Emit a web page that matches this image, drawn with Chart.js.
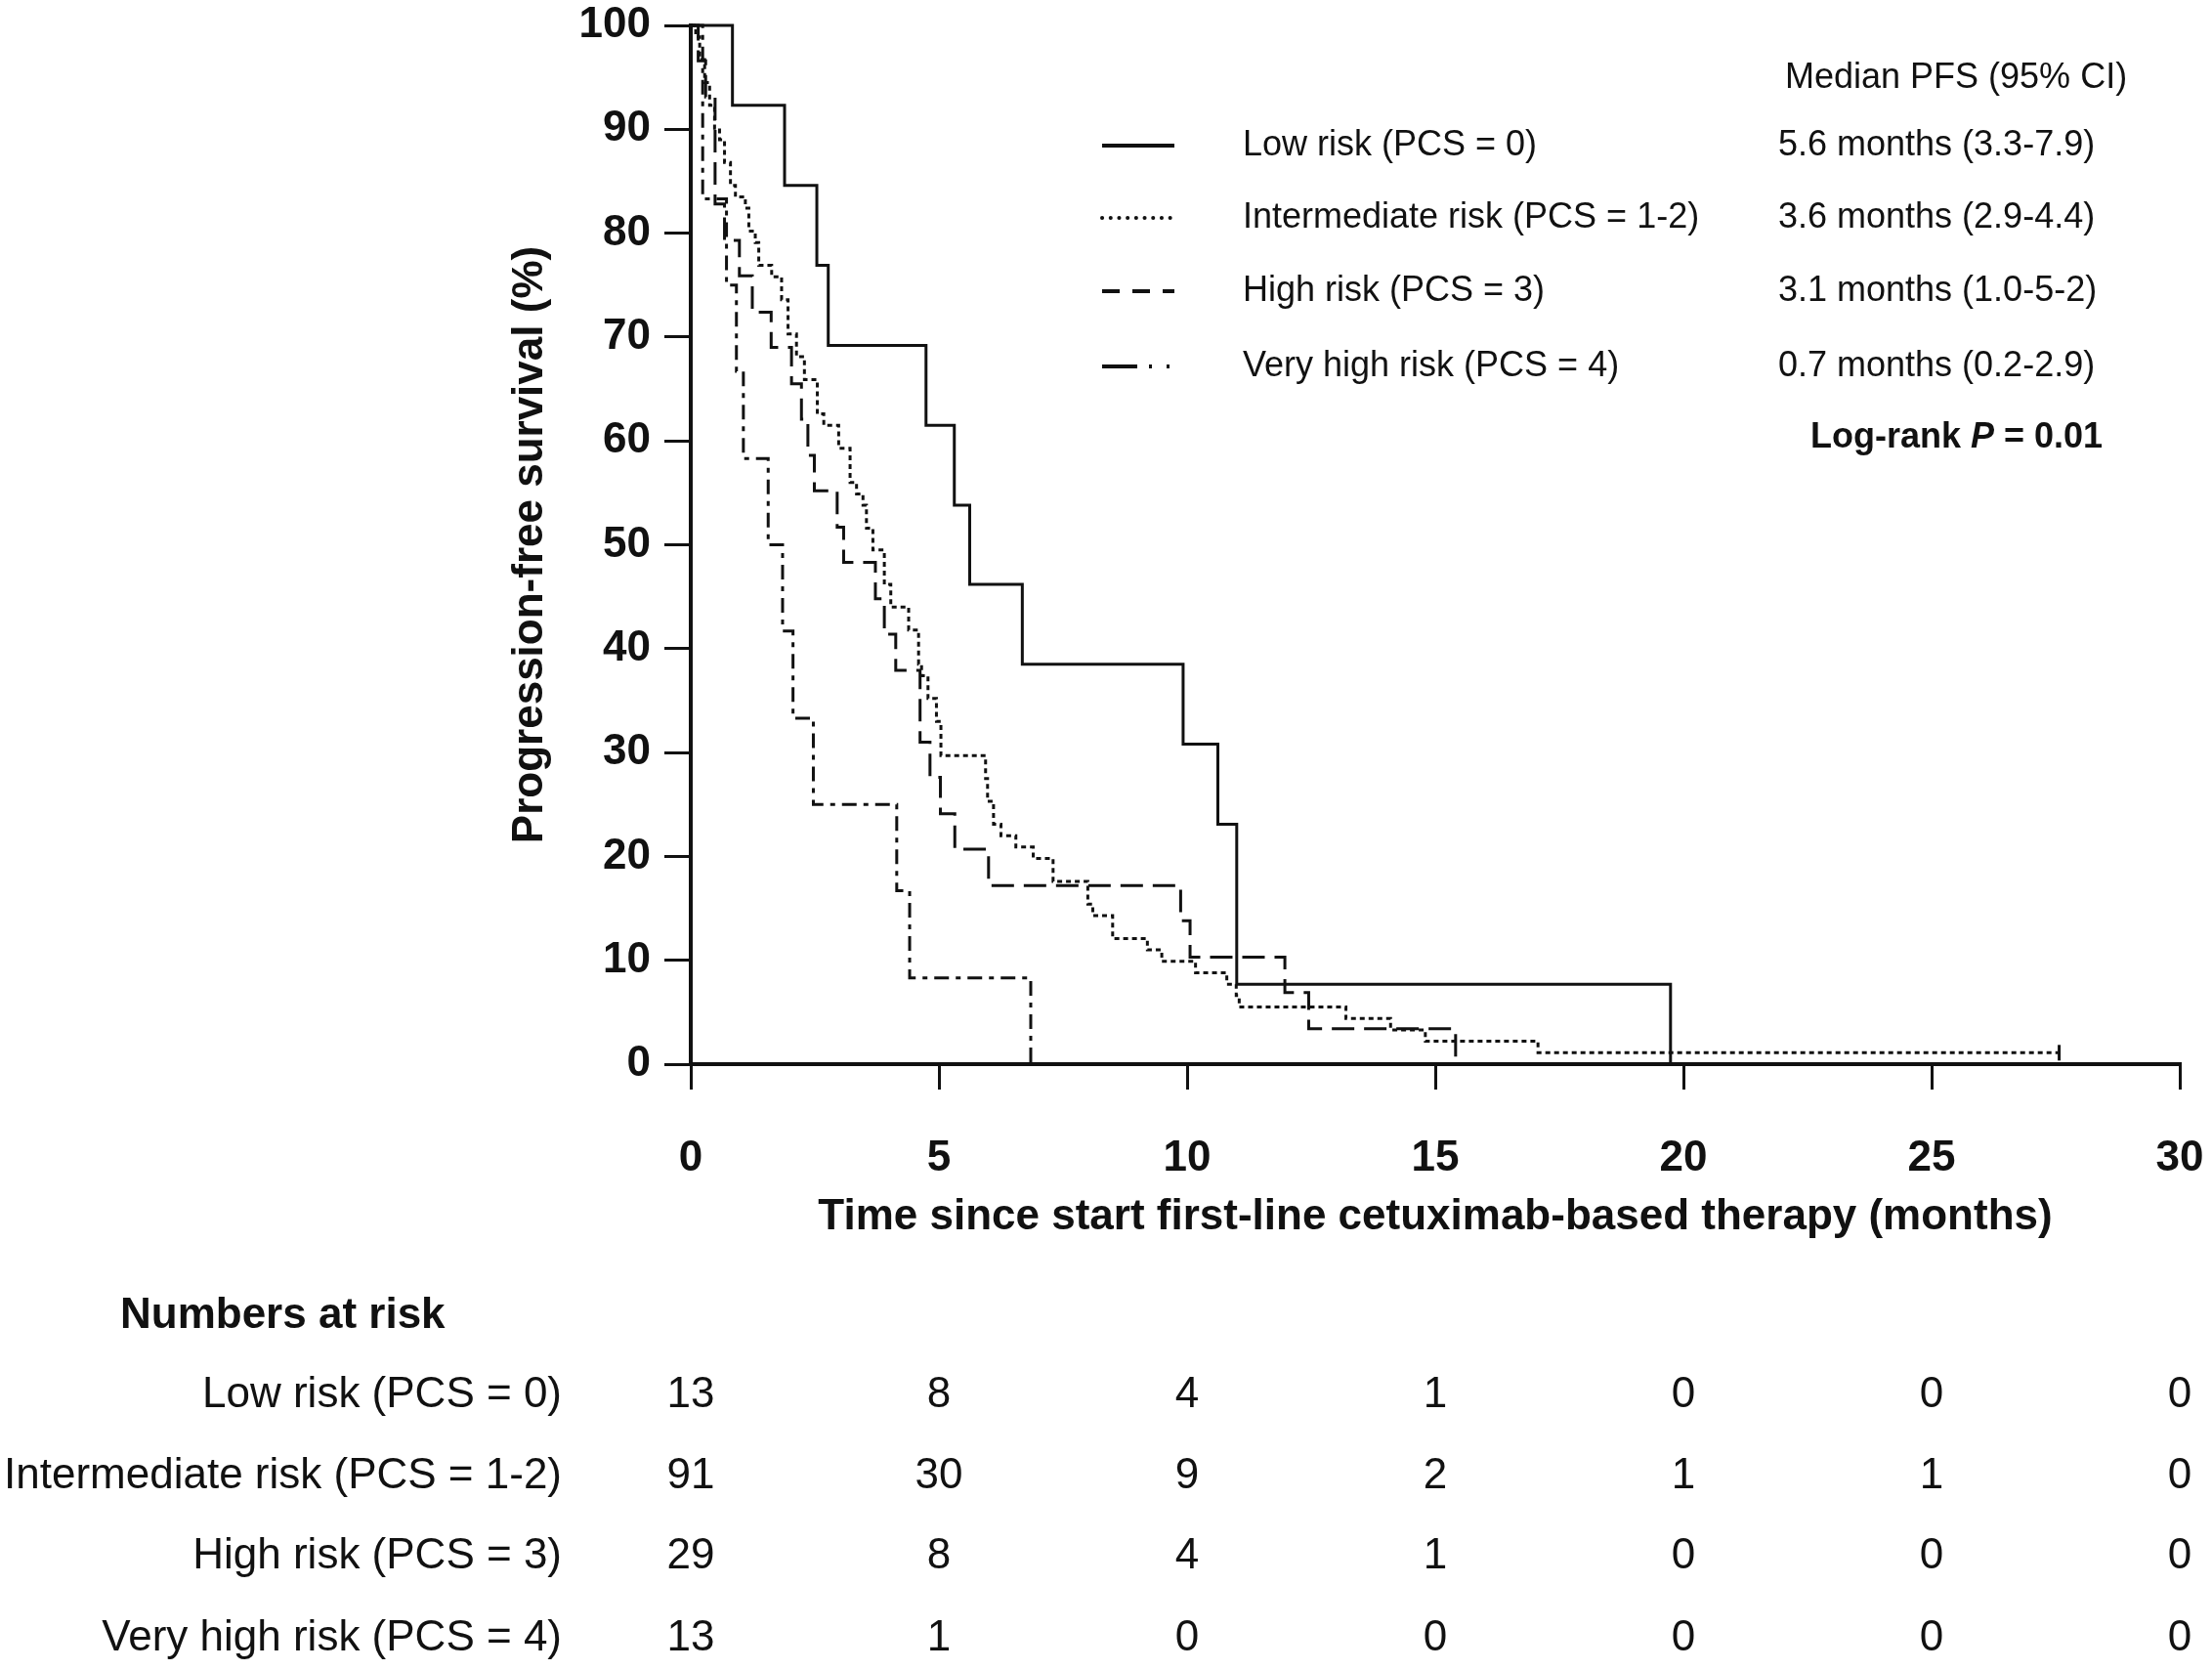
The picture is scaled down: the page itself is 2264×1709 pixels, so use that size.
<!DOCTYPE html>
<html>
<head>
<meta charset="utf-8">
<title>PFS by PCS risk group</title>
<script src="https://cdn.jsdelivr.net/npm/chart.js@4.4.1/dist/chart.umd.min.js"></script>
<style>
  html, body { margin: 0; padding: 0; background: #fff; }
  #km { display: block; }
</style>
</head>
<body>
<canvas id="km" width="2264" height="1709"></canvas>
<script>
// Kaplan-Meier steps: time (months) where survival drops, survival after the drop (%)
const lowTime = [0, 0.84, 1.89, 2.54, 2.77, 4.74, 5.31, 5.62, 6.68, 9.92, 10.62, 11.0, 19.74];
const lowSurv = [100, 92.3, 84.6, 76.9, 69.2, 61.5, 53.8, 46.2, 38.5, 30.8, 23.1, 7.7, 0];

const midTime = [0, 0.1, 0.18, 0.28, 0.38, 0.48, 0.58, 0.68, 0.8, 0.9, 1.1, 1.17, 1.3, 1.37, 1.63, 1.83, 1.96,
  2.13, 2.29, 2.55, 2.68, 2.98, 3.21, 3.34, 3.47, 3.54, 3.67, 3.9, 4.03, 4.39, 4.59, 4.65, 4.78, 4.95, 5.04,
  5.94, 5.98, 6.1, 6.25, 6.55, 6.9, 7.3, 8.0, 8.1, 8.5, 9.2, 9.49, 10.17, 10.8, 10.99, 11.05, 13.2, 14.1,
  14.8, 17.07, 27.57];
const midSurv = [100, 98.9, 96.7, 94.5, 92.3, 90.1, 89.0, 86.8, 84.6, 83.5, 82.4, 80.2, 79.1, 76.9, 75.8, 73.6, 70.3,
  68.1, 65.9, 62.6, 61.5, 59.3, 56.0, 54.9, 53.8, 51.6, 49.5, 46.2, 44.0, 41.8, 38.5, 37.4, 35.2, 33.0, 29.7,
  27.5, 25.3, 23.1, 22.0, 20.9, 19.8, 17.6, 15.4, 14.3, 12.1, 11.0, 9.9, 8.8, 7.7, 6.6, 5.5, 4.4, 3.3,
  2.2, 1.1, 1.1];

const highTime = [0, 0.15, 0.3, 0.49, 0.68, 0.98, 1.24, 1.62, 2.03, 2.23, 2.36, 2.49, 2.95, 3.08, 3.72, 3.9,
  4.13, 4.62, 4.82, 5.03, 5.32, 6.0, 9.87, 10.06, 11.97, 12.45, 15.41];
const highSurv = [100, 96.6, 93.1, 82.8, 79.3, 75.9, 72.4, 69.0, 65.5, 62.1, 58.6, 55.2, 51.7, 48.3, 44.8, 41.4,
  37.9, 31.0, 27.6, 24.1, 20.7, 17.2, 13.8, 10.3, 6.9, 3.4, 0];

const vhighTime = [0, 0.24, 0.72, 0.92, 1.06, 1.56, 1.85, 2.06, 2.47, 4.15, 4.41, 6.85];
const vhighSurv = [100, 83.3, 75.0, 66.7, 58.3, 50.0, 41.7, 33.3, 25.0, 16.7, 8.3, 0];

const groupNames = ['Low risk (PCS = 0)', 'Intermediate risk (PCS = 1-2)', 'High risk (PCS = 3)', 'Very high risk (PCS = 4)'];
const medianPFS = ['5.6 months (3.3-7.9)', '3.6 months (2.9-4.4)', '3.1 months (1.0-5-2)', '0.7 months (0.2-2.9)'];

const riskTimes = [0, 5, 10, 15, 20, 25, 30];
const riskLow = [13, 8, 4, 1, 0, 0, 0];
const riskMid = [91, 30, 9, 2, 1, 1, 0];
const riskHigh = [29, 8, 4, 1, 0, 0, 0];
const riskVeryHigh = [13, 1, 0, 0, 0, 0, 0];

const FONT = "'Liberation Sans', Arial, Helvetica, sans-serif";
const INK = '#111';

function toPoints(times, surv) {
    return times.map((t, i) => ({ x: t, y: surv[i] }));
}

// line patterns: plot pattern and the legend sample pattern (legend draws them wider)
const styles = [
    { dash: [], legendDash: [], cap: 'butt' },
    { dash: [5, 4], legendDash: [0.1, 8.6], cap: 'round' },
    { dash: [23, 10], legendDash: [18, 13], cap: 'butt' },
    { dash: [15, 7, 5, 7], legendDash: [36, 12, 3, 15, 3, 15], cap: 'butt' }
];

const midRadius = midTime.map((t, i) => (i === midTime.length - 1 ? 8 : 0));

const kmLegend = {
    id: 'kmLegend',
    afterDraw(chart) {
        const ctx = chart.ctx;
        ctx.save();
        ctx.fillStyle = INK;
        ctx.textBaseline = 'middle';
        ctx.textAlign = 'left';
        ctx.font = '36px ' + FONT;
        ctx.fillText('Median PFS (95% CI)', 1827, 80);

        const rowY = [149, 223, 298, 375];
        rowY.forEach((y, i) => {
            ctx.strokeStyle = INK;
            ctx.lineWidth = 4;
            ctx.lineCap = styles[i].cap;
            ctx.setLineDash(styles[i].legendDash);
            ctx.beginPath();
            ctx.moveTo(1128, y);
            ctx.lineTo(1202, y);
            ctx.stroke();
            ctx.setLineDash([]);
            ctx.lineCap = 'butt';
            ctx.font = '36px ' + FONT;
            ctx.fillText(groupNames[i], 1272, y);
            ctx.fillText(medianPFS[i], 1820, y);
        });

        // Log-rank P = 0.01 with italic P
        let x = 1853;
        const y = 448;
        ctx.font = 'bold 36px ' + FONT;
        ctx.fillText('Log-rank ', x, y);
        x += ctx.measureText('Log-rank ').width;
        ctx.font = 'italic bold 36px ' + FONT;
        ctx.fillText('P', x, y);
        x += ctx.measureText('P').width;
        ctx.font = 'bold 36px ' + FONT;
        ctx.fillText(' = 0.01', x, y);
        ctx.restore();
    }
};

const riskTable = {
    id: 'riskTable',
    afterDraw(chart) {
        const ctx = chart.ctx;
        const xs = chart.scales.x;
        const rows = [riskLow, riskMid, riskHigh, riskVeryHigh];
        const rowY = [1428, 1511, 1593, 1677];
        ctx.save();
        ctx.fillStyle = INK;
        ctx.textBaseline = 'middle';
        ctx.font = 'bold 44px ' + FONT;
        ctx.textAlign = 'left';
        ctx.fillText('Numbers at risk', 123, 1347);
        ctx.font = '44px ' + FONT;
        rows.forEach((row, i) => {
            ctx.textAlign = 'right';
            ctx.fillText(groupNames[i], 575, rowY[i]);
            ctx.textAlign = 'center';
            row.forEach((n, j) => {
                ctx.fillText(String(n), xs.getPixelForValue(riskTimes[j]), rowY[i]);
            });
        });
        ctx.restore();
    }
};

function series(label, times, surv, k, extra) {
    return Object.assign({
        label: label,
        data: toPoints(times, surv),
        stepped: true,
        borderColor: INK,
        borderWidth: 3,
        borderDash: styles[k].dash,
        pointRadius: 0,
        fill: false,
        clip: false
    }, extra || {});
}

new Chart(document.getElementById('km'), {
    type: 'line',
    data: {
        datasets: [
            series(groupNames[0], lowTime, lowSurv, 0),
            series(groupNames[1], midTime, midSurv, 1, {
                pointRadius: midRadius,
                pointStyle: 'line',
                rotation: 90,
                pointBorderColor: INK,
                pointBorderWidth: 3
            }),
            series(groupNames[2], highTime, highSurv, 2),
            series(groupNames[3], vhighTime, vhighSurv, 3)
        ]
    },
    options: {
        responsive: false,
        animation: false,
        devicePixelRatio: 1,
        layout: {
            padding: { left: 516, top: 26, right: 33, bottom: 437 }
        },
        scales: {
            x: {
                type: 'linear',
                min: 0,
                max: 30,
                afterFit(scale) {
                    scale.height = 183;
                    scale.paddingLeft = 0;
                    scale.paddingRight = 0;
                },
                ticks: {
                    stepSize: 5,
                    color: INK,
                    padding: 44,
                    font: { family: FONT, size: 44, weight: 'bold' }
                },
                grid: { drawOnChartArea: false, tickLength: 26, color: INK, lineWidth: 3 },
                border: { color: INK, width: 4 },
                title: {
                    display: true,
                    text: 'Time since start first-line cetuximab-based therapy (months)',
                    color: INK,
                    padding: 0,
                    font: { family: FONT, size: 44, weight: 'bold' }
                }
            },
            y: {
                min: 0,
                max: 100,
                afterFit(scale) {
                    scale.width = 191;
                    scale.paddingTop = 0;
                    scale.paddingBottom = 0;
                },
                ticks: {
                    stepSize: 10,
                    color: INK,
                    padding: 14,
                    font: { family: FONT, size: 44, weight: 'bold' }
                },
                grid: { drawOnChartArea: false, tickLength: 27, color: INK, lineWidth: 3 },
                border: { color: INK, width: 4 },
                title: {
                    display: true,
                    text: 'Progression-free survival (%)',
                    color: INK,
                    padding: 0,
                    font: { family: FONT, size: 44, weight: 'bold' }
                }
            }
        },
        plugins: {
            legend: { display: false },
            tooltip: { enabled: false }
        }
    },
    plugins: [kmLegend, riskTable]
});
</script>
</body>
</html>
